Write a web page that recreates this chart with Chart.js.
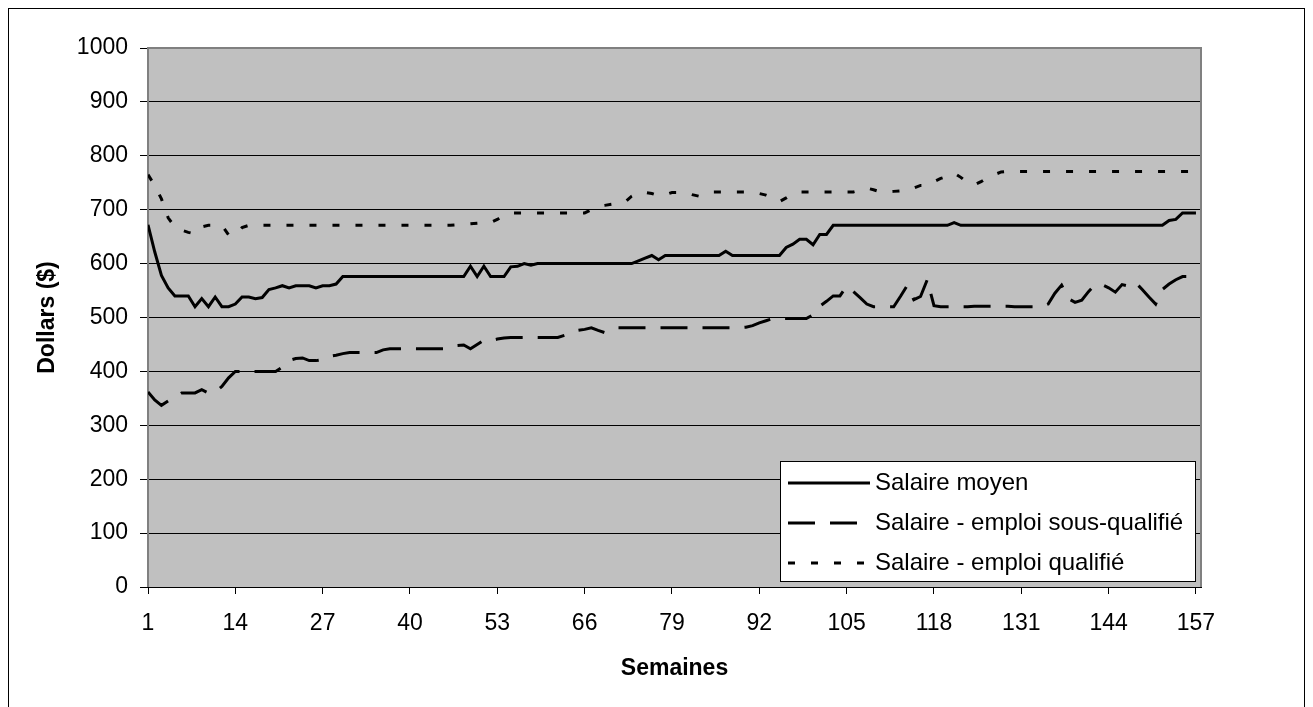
<!DOCTYPE html>
<html>
<head>
<meta charset="utf-8">
<title>Salaires</title>
<script src="https://cdn.jsdelivr.net/npm/chart.js@4.4.1/dist/chart.umd.min.js"></script>
<style>
  html, body { margin: 0; padding: 0; background: #fff; }
</style>
</head>
<body>
<canvas id="salaires" width="1313" height="707"></canvas>
<script>
// semaines 1..157
const weeks = Array.from({ length: 157 }, (_, i) => i + 1);
const weekTicks = [1, 14, 27, 40, 53, 66, 79, 92, 105, 118, 131, 144, 157];
const dollarTicks = [0, 100, 200, 300, 400, 500, 600, 700, 800, 900, 1000];

const salaireMoyen = [
  672, 622, 578, 555, 540, 540, 540, 520, 535, 520,
  538, 520, 520, 525, 538, 538, 535, 537, 552, 555,
  559, 555, 559, 559, 559, 555, 559, 559, 562, 576,
  576, 576, 576, 576, 576, 576, 576, 576, 576, 576,
  576, 576, 576, 576, 576, 576, 576, 576, 595, 576,
  595, 576, 576, 576, 594, 595, 600, 597, 600, 600,
  600, 600, 600, 600, 600, 600, 600, 600, 600, 600,
  600, 600, 600, 605, 610, 615, 607, 615, 615, 615,
  615, 615, 615, 615, 615, 615, 623, 615, 615, 615,
  615, 615, 615, 615, 615, 630, 636, 645, 645, 635,
  654, 654, 671, 671, 671, 671, 671, 671, 671, 671,
  671, 671, 671, 671, 671, 671, 671, 671, 671, 671,
  676, 671, 671, 671, 671, 671, 671, 671, 671, 671,
  671, 671, 671, 671, 671, 671, 671, 671, 671, 671,
  671, 671, 671, 671, 671, 671, 671, 671, 671, 671,
  671, 671, 680, 682, 694, 694, 694
];

const salaireSousQualifie = [
  362, 347, 337, 345, 352, 360, 360, 360, 366, 360,
  362, 372, 388, 400, 400, 400, 400, 400, 400, 400,
  408, 420, 424, 425, 420, 420, 422, 428, 430, 433,
  435, 435, 435, 435, 435, 440, 442, 442, 442, 442,
  442, 442, 442, 442, 442, 444, 448, 449, 442, 450,
  458, 457, 460, 462, 463, 463, 463, 463, 463, 463,
  463, 463, 467, 471, 476, 478, 481, 476, 472, 477,
  481, 481, 481, 481, 481, 481, 481, 481, 481, 481,
  481, 481, 481, 481, 481, 481, 481, 481, 481, 482,
  485, 490, 494, 498, 498, 498, 498, 498, 498, 505,
  521, 530, 540, 540, 558, 548, 537, 525, 520, 520,
  520, 520, 539, 559, 533, 539, 570, 522, 520, 520,
  520, 520, 520, 521, 521, 521, 521, 521, 521, 520,
  520, 520, 520, 520, 525, 545, 560, 535, 528, 532,
  548, 561, 561, 555, 547, 561, 558, 565, 552, 538,
  525, 552, 562, 570, 576, 576, 576
];

const salaireQualifie = [
  765, 745, 720, 685, 668, 662, 658, 655, 668, 671,
  671, 671, 653, 653, 667, 671, 671, 671, 671, 671,
  671, 671, 671, 671, 671, 671, 671, 671, 671, 671,
  671, 671, 671, 671, 671, 671, 671, 671, 671, 671,
  671, 671, 671, 671, 671, 671, 672, 673, 674, 675,
  676, 676, 682, 690, 694, 694, 694, 694, 694, 694,
  694, 694, 694, 694, 694, 694, 700, 706, 708, 710,
  712, 714, 725, 732, 732, 730, 726, 728, 732, 732,
  732, 728, 725, 730, 733, 733, 733, 733, 733, 733,
  733, 730, 727, 722, 715, 722, 730, 733, 733, 733,
  733, 733, 733, 733, 733, 733, 736, 740, 737, 733,
  733, 734, 735, 735, 740, 745, 745, 752, 758, 762,
  768, 760, 750, 746, 752, 760, 765, 770, 771, 771,
  771, 771, 771, 771, 771, 771, 771, 771, 771, 771,
  771, 771, 771, 771, 771, 771, 771, 771, 771, 771,
  771, 771, 771, 771, 771, 771, 771
];

const FONT = '"Liberation Sans", Arial, sans-serif';
Chart.defaults.font.family = FONT;
Chart.defaults.color = '#000';

// fond gris de la zone de tracé + cadre extérieur
const plotBackground = {
  id: 'plotBackground',
  beforeDraw(chart) {
    const { ctx, chartArea: a } = chart;
    ctx.save();
    ctx.fillStyle = '#fff';
    ctx.fillRect(0, 0, chart.width, chart.height);
    ctx.strokeStyle = '#000';
    ctx.lineWidth = 1;
    ctx.strokeRect(8.5, 8.5, 1296, 720);
    ctx.fillStyle = '#c0c0c0';
    ctx.fillRect(a.left, a.top, a.right - a.left, a.bottom - a.top);
    ctx.restore();
  },
  beforeDatasetsDraw(chart) {
    const { ctx, chartArea: a } = chart;
    ctx.save();
    ctx.strokeStyle = '#808080';
    ctx.lineWidth = 2;
    ctx.beginPath();
    ctx.moveTo(a.left, a.bottom);
    ctx.lineTo(a.left, a.top);
    ctx.lineTo(a.right, a.top);
    ctx.lineTo(a.right, a.bottom);
    ctx.stroke();
    ctx.restore();
  }
};

// légende encadrée dans le coin bas droit du graphique
const boxLegend = {
  id: 'boxLegend',
  afterDraw(chart) {
    const { ctx } = chart;
    const box = { x: 780.5, y: 461.5, w: 415, h: 120 };
    ctx.save();
    ctx.fillStyle = '#fff';
    ctx.fillRect(box.x, box.y, box.w, box.h);
    ctx.strokeStyle = '#000';
    ctx.lineWidth = 1;
    ctx.strokeRect(box.x, box.y, box.w, box.h);
    ctx.font = '24px ' + FONT;
    ctx.textBaseline = 'middle';
    ctx.fillStyle = '#000';
    chart.data.datasets.forEach((ds, i) => {
      const y = 483 + i * 40;
      ctx.beginPath();
      ctx.setLineDash(ds.borderDash || []);
      ctx.lineWidth = ds.borderWidth;
      ctx.strokeStyle = ds.borderColor;
      ctx.moveTo(788, y);
      ctx.lineTo(870, y);
      ctx.stroke();
      ctx.setLineDash([]);
      ctx.fillText(ds.label, 875, y);
    });
    ctx.restore();
  }
};

new Chart(document.getElementById('salaires'), {
  type: 'line',
  data: {
    labels: weeks,
    datasets: [
      { label: 'Salaire moyen', data: salaireMoyen, borderDash: [] },
      { label: 'Salaire - emploi sous-qualifié', data: salaireSousQualifie, borderDash: [27, 15] },
      { label: 'Salaire - emploi qualifié', data: salaireQualifie, borderDash: [7, 16] }
    ].map(ds => Object.assign(ds, {
      borderColor: '#000',
      borderWidth: 3,
      pointRadius: 0,
      tension: 0,
      fill: false
    }))
  },
  options: {
    responsive: false,
    animation: false,
    devicePixelRatio: 1,
    layout: { padding: { left: 34, top: 48, right: 112, bottom: 25 } },
    plugins: {
      legend: { display: false },
      tooltip: { enabled: false }
    },
    scales: {
      x: {
        type: 'linear',
        min: 1,
        max: 157.75,
        afterBuildTicks: axis => { axis.ticks = weekTicks.map(v => ({ value: v })); },
        afterFit: scale => { scale.height = 707 - 25 - 587; },
        ticks: { autoSkip: false, maxRotation: 0, padding: 16, font: { size: 23 }, callback: v => String(v) },
        grid: { drawOnChartArea: false, color: '#000', tickLength: 7 },
        border: { color: '#000', width: 1 },
        title: { display: true, text: 'Semaines', padding: 0, font: { size: 23, weight: 'bold' } }
      },
      y: {
        min: 0,
        max: 1000,
        afterBuildTicks: axis => { axis.ticks = dollarTicks.map(v => ({ value: v })); },
        afterFit: scale => { scale.width = 148 - 34; },
        ticks: { padding: 12, font: { size: 23 }, callback: v => String(v) },
        grid: { color: '#000', tickLength: 8 },
        border: { color: '#000', width: 1 },
        title: { display: true, text: 'Dollars ($)', padding: 0, font: { size: 23, weight: 'bold' } }
      }
    }
  },
  plugins: [plotBackground, boxLegend]
});
</script>
</body>
</html>
